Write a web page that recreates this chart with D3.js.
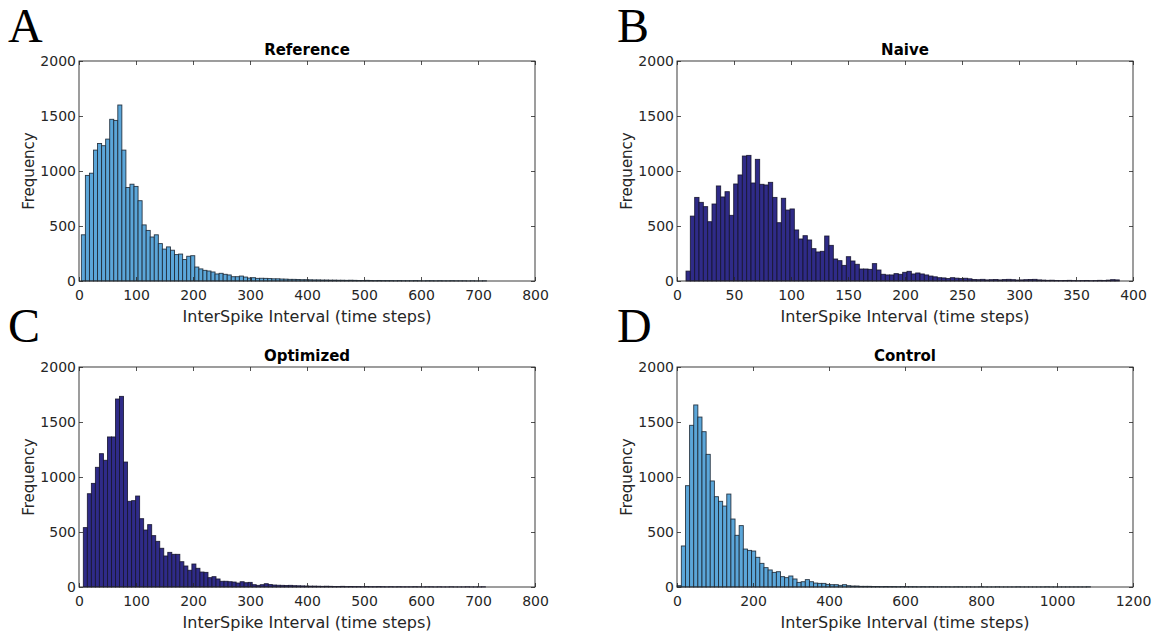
<!DOCTYPE html>
<html>
<head>
<meta charset="utf-8">
<script src="https://cdn.jsdelivr.net/npm/d3@7"></script>
<style>
  html, body { margin: 0; padding: 0; background: #fff; }
  svg { display: block; }
  .tick text { font-family: "DejaVu Sans", Verdana, sans-serif; font-size: 14px; fill: #262626; }
  .tick line { stroke: #262626; stroke-width: 0.8; }
</style>
</head>
<body>
<div id="chart"></div>
<script>
// 100-bin histograms of interspike intervals, counts
const refCounts = [420, 960, 980, 1190, 1250, 1230, 1290, 1470, 1460, 1600,
    1190, 850, 880, 860, 730, 510, 460, 400, 420, 340,
    290, 310, 280, 240, 245, 195, 225, 230, 127, 110,
    97, 91, 82, 64, 70, 61, 55, 39, 39, 45,
    36, 27, 30, 24, 25, 24, 22, 20, 20, 18,
    17, 15, 15, 14, 12, 12, 11, 10, 10, 9,
    9, 8, 8, 7, 7, 6, 7, 6, 5, 5,
    6, 5, 4, 5, 4, 4, 4, 3, 4, 3,
    3, 3, 4, 3, 2, 3, 3, 2, 3, 2,
    2, 3, 2, 2, 2, 1, 2, 1, 1, 2];
const naiveCounts = [90, 590, 760, 715, 676, 539, 700, 864, 764, 812,
    597, 882, 964, 1136, 1142, 891, 1106, 879, 873, 897,
    760, 530, 752, 645, 655, 464, 382, 412, 373, 294,
    264, 270, 409, 324, 200, 185, 142, 221, 182, 152,
    109, 109, 106, 158, 100, 61, 55, 55, 67, 61,
    79, 88, 64, 73, 64, 55, 45, 38, 30, 28,
    22, 30, 26, 22, 25, 20, 14, 12, 15, 10,
    12, 14, 10, 13, 15, 12, 9, 10, 12, 14,
    15, 10, 8, 6, 7, 5, 4, 5, 6, 4,
    3, 4, 5, 3, 4, 6, 5, 8, 12, 10];
const optCounts = [540, 848, 942, 1088, 1212, 1152, 1364, 1364, 1709, 1733,
    1136, 779, 785, 827, 621, 518, 567, 467, 415, 352,
    282, 315, 297, 297, 230, 191, 152, 209, 170, 136,
    133, 85, 94, 73, 52, 52, 48, 45, 36, 48,
    39, 42, 21, 15, 21, 30, 22, 18, 16, 15,
    14, 15, 12, 11, 10, 9, 8, 8, 7, 6,
    7, 6, 5, 5, 6, 4, 5, 4, 4, 3,
    4, 3, 3, 4, 3, 2, 3, 2, 3, 2,
    2, 2, 3, 2, 1, 2, 2, 1, 2, 1,
    1, 2, 1, 1, 1, 2, 1, 1, 1, 2];
const ctrlCounts = [12, 373, 921, 1470, 1655, 1545, 1412, 1206, 964, 821,
    779, 736, 845, 618, 470, 558, 345, 333, 327, 270,
    215, 176, 155, 133, 139, 94, 85, 100, 73, 42,
    48, 67, 48, 36, 33, 33, 24, 21, 21, 15,
    21, 12, 9, 9, 6, 6, 6, 5, 5, 4,
    5, 4, 4, 3, 4, 3, 3, 3, 2, 3,
    2, 3, 2, 2, 2, 2, 1, 2, 2, 1,
    2, 1, 1, 2, 1, 1, 1, 2, 1, 1,
    1, 1, 2, 1, 1, 1, 1, 1, 1, 2,
    1, 1, 1, 1, 1, 1, 1, 1, 1, 2];

// data range covered by the bins (min, max interval)
const refRange = [4.1, 715];
const naiveRange = [7.9, 388];
const optRange = [7.6, 713];
const ctrlRange = [0.5, 1088];

const refTicks = [0, 100, 200, 300, 400, 500, 600, 700, 800];
const naiveTicks = [0, 50, 100, 150, 200, 250, 300, 350, 400];
const ctrlTicks = [0, 200, 400, 600, 800, 1000, 1200];
const yTicks = [0, 500, 1000, 1500, 2000];

const titles = ["Reference", "Naive", "Optimized", "Control"];
const letters = ["A", "B", "C", "D"];

const lightBlue = {fill: "#5ba6d9", stroke: "#1c2733"};
const navy = {fill: "#2f2b88", stroke: "#16152e"};

const W = 1159, H = 636;
const pw = 456, ph = 220;

const panels = [
    {counts: refCounts, range: refRange, ticks: refTicks, color: lightBlue, x: 79, y: 61, lx: 8, ly: 42},
    {counts: naiveCounts, range: naiveRange, ticks: naiveTicks, color: navy, x: 677, y: 61, lx: 617, ly: 42},
    {counts: optCounts, range: optRange, ticks: refTicks, color: navy, x: 79, y: 367, lx: 8, ly: 342},
    {counts: ctrlCounts, range: ctrlRange, ticks: ctrlTicks, color: lightBlue, x: 677, y: 367, lx: 617, ly: 342}
];

const svg = d3.select("#chart").append("svg")
    .attr("width", W)
    .attr("height", H);

panels.forEach(function (p, i) {
    svg.append("text")
        .attr("x", p.lx)
        .attr("y", p.ly)
        .attr("font-family", "Liberation Serif, Times New Roman, serif")
        .attr("font-size", 48)
        .attr("fill", "#000")
        .text(letters[i]);

    const g = svg.append("g")
        .attr("transform", `translate(${p.x},${p.y})`);

    const x = d3.scaleLinear()
        .domain([0, p.ticks[p.ticks.length - 1]])
        .range([0, pw]);
    const y = d3.scaleLinear()
        .domain([0, 2000])
        .range([ph, 0]);

    const n = p.counts.length;
    const step = (p.range[1] - p.range[0]) / n;
    const bins = p.counts.map(function (c, k) {
        return {x0: p.range[0] + k * step, x1: p.range[0] + (k + 1) * step, count: c};
    });

    g.append("g")
        .attr("class", "bars")
        .selectAll("rect")
        .data(bins)
        .enter().append("rect")
        .attr("x", d => x(d.x0))
        .attr("width", d => x(d.x1) - x(d.x0))
        .attr("y", d => y(d.count))
        .attr("height", d => y(0) - y(d.count))
        .attr("fill", p.color.fill)
        .attr("stroke", p.color.stroke)
        .attr("stroke-width", 0.9)
        .attr("stroke-opacity", 0.9);

    // axes, ticks pointing inward on all four sides
    const fmt = d3.format("d");
    g.append("g")
        .attr("transform", `translate(0,${ph})`)
        .call(d3.axisBottom(x).tickValues(p.ticks).tickFormat(fmt).tickSizeInner(-4).tickSizeOuter(0).tickPadding(9))
        .call(a => a.select(".domain").remove());
    g.append("g")
        .call(d3.axisTop(x).tickValues(p.ticks).tickSizeInner(-4).tickSizeOuter(0).tickFormat(""))
        .call(a => a.select(".domain").remove());
    g.append("g")
        .call(d3.axisLeft(y).tickValues(yTicks).tickFormat(fmt).tickSizeInner(-4).tickSizeOuter(0).tickPadding(3))
        .call(a => a.select(".domain").remove());
    g.append("g")
        .attr("transform", `translate(${pw},0)`)
        .call(d3.axisRight(y).tickValues(yTicks).tickSizeInner(-4).tickSizeOuter(0).tickFormat(""))
        .call(a => a.select(".domain").remove());

    g.append("rect")
        .attr("width", pw)
        .attr("height", ph)
        .attr("fill", "none")
        .attr("stroke", "#262626")
        .attr("stroke-width", 0.9);

    g.append("text")
        .attr("x", pw / 2)
        .attr("y", -6)
        .attr("text-anchor", "middle")
        .attr("font-family", "DejaVu Sans, Verdana, sans-serif")
        .attr("font-weight", "bold")
        .attr("font-size", 15)
        .attr("fill", "#000")
        .text(titles[i]);

    g.append("text")
        .attr("x", pw / 2)
        .attr("y", ph + 41)
        .attr("text-anchor", "middle")
        .attr("font-family", "DejaVu Sans, Verdana, sans-serif")
        .attr("font-size", 16)
        .attr("fill", "#262626")
        .text("InterSpike Interval (time steps)");

    g.append("text")
        .attr("transform", `translate(-45,${ph / 2}) rotate(-90)`)
        .attr("text-anchor", "middle")
        .attr("font-family", "DejaVu Sans, Verdana, sans-serif")
        .attr("font-size", 15)
        .attr("fill", "#262626")
        .text("Frequency");
});
</script>
</body>
</html>
